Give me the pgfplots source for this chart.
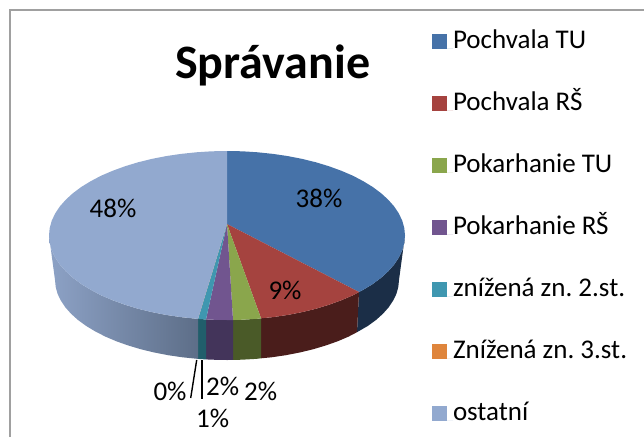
\documentclass[border=0pt]{standalone}
\usepackage{fontspec}
\setmainfont{Carlito}
\frenchspacing
\usepackage{pgfplots}
\pgfplotsset{compat=1.18}
\definecolor{cBlue}{HTML}{4672A8}
\definecolor{cRed}{HTML}{A5433F}
\definecolor{cGreen}{HTML}{8AA64C}
\definecolor{cPurple}{HTML}{71558F}
\definecolor{cTeal}{HTML}{3F97B0}
\definecolor{cOrange}{HTML}{DF853C}
\definecolor{cLight}{HTML}{92A9CF}
\definecolor{sBlue}{HTML}{1B2E47}
\definecolor{sRed}{HTML}{4A1D1B}
\definecolor{sGreen}{HTML}{4A5A28}
\definecolor{sPurple}{HTML}{43345A}
\definecolor{sTeal}{HTML}{215E6B}
\definecolor{sLightA}{HTML}{8DA2C6}
\definecolor{sLightB}{HTML}{5D6E88}
\definecolor{frameC}{HTML}{A0A0A0}
\begin{document}
\frenchspacing
\begin{tikzpicture}
\useasboundingbox (0,0) rectangle (644pt,437pt);
\begin{axis}[
  scale only axis, width=644pt, height=437pt,
  xmin=0, xmax=644, ymin=0, ymax=437, y dir=reverse,
  hide axis, clip=false, no markers,
  legend style={at={(axis cs:432,33)}, anchor=north west, draw=none, fill=none,
    inner sep=0pt, outer sep=0pt, row sep=42pt, column sep=0pt,
    font=\frenchspacing\fontsize{27}{27}\selectfont,
    nodes={inner sep=0pt, outer sep=0pt, text height=15pt, text depth=5pt, anchor=base west}},
  legend cell align=left,
  legend image code/.code={\path (0pt,0pt) -- (21pt,0pt);\fill[#1,draw=none] (0pt,-1pt) rectangle (15pt,14pt);},
]
% frame
\addplot[forget plot, frameC, line width=2pt] coordinates {(10,437) (10,10) (644,10)};
% sides
\addplot[forget plot, draw=none, fill=sBlue] coordinates {(405,235.5) (404.3,242.9) (402.3,250.2) (398.9,257.4) (394.3,264.4) (388.3,271.2) (381.1,277.8) (372.8,284) (363.3,289.8) (359,292) (357,332.2) (367.9,325.9) (376,320) (382.9,313.8) (388.6,307.4) (393.1,300.7) (396.4,293.9) (398.3,287) (399,280)} --cycle;
\addplot[forget plot, draw=none, fill=sRed] coordinates {(359,292) (352.9,295.3) (341.4,300.2) (329.1,304.7) (316,308.7) (302.2,312.1) (287.9,314.9) (273.1,317.1) (261,318.3) (261,358.3) (271.5,357.3) (285.8,355.2) (299.7,352.5) (313,349.3) (325.7,345.5) (337.6,341.3) (348.6,336.6) (357,332.2)} --cycle;
\addplot[forget plot, draw=none, fill=sGreen] coordinates {(261,318.3) (257.9,318.7) (242.5,319.7) (233,320) (233,359.9) (242,359.7) (256.9,358.8) (261,358.3)} --cycle;
\addplot[forget plot, draw=none, fill=sPurple] coordinates {(233,320) (227,320) (211.5,319.7) (206,319.4) (206,359.4) (212,359.7) (227,360) (233,359.9)} --cycle;
\addplot[forget plot, draw=none, fill=sTeal] coordinates {(206,319.4) (198,318.9) (198,358.9) (206,359.4)} --cycle;
\addplot[forget plot, draw=none, left color=sLightA, right color=sLightB] coordinates {(198,318.9) (196.1,318.7) (180.9,317.1) (166.1,314.9) (151.8,312.1) (138,308.7) (124.9,304.7) (112.6,300.2) (101.1,295.3) (90.7,289.8) (81.2,284) (72.9,277.8) (65.7,271.2) (59.7,264.4) (55.1,257.4) (51.7,250.2) (49.7,242.9) (49,235.5) (55,280) (55.7,287) (57.6,293.9) (60.9,300.7) (65.4,307.4) (71.1,313.8) (78,320) (86.1,325.9) (95.2,331.4) (105.4,336.6) (116.4,341.3) (128.3,345.5) (141,349.3) (154.3,352.5) (168.2,355.2) (182.5,357.3) (197.1,358.8) (198,358.9)} --cycle;
% top slices (values 38, 9, 2, 2, 1, 0, 48 %)
\addplot[draw=none, fill=cBlue] coordinates {(227,224) (227,151) (242.5,151.3) (257.9,152.3) (273.1,153.9) (287.9,156.1) (302.2,158.9) (316,162.3) (329.1,166.3) (341.4,170.8) (352.9,175.7) (363.3,181.2) (372.8,187) (381.1,193.2) (388.3,199.8) (394.3,206.6) (398.9,213.6) (402.3,220.8) (404.3,228.1) (405,235.5) (404.3,242.9) (402.3,250.2) (398.9,257.4) (394.3,264.4) (388.3,271.2) (381.1,277.8) (372.8,284) (363.3,289.8) (359,292)} --cycle;
\addplot[draw=none, fill=cRed] coordinates {(227,224) (359,292) (352.9,295.3) (341.4,300.2) (329.1,304.7) (316,308.7) (302.2,312.1) (287.9,314.9) (273.1,317.1) (261,318.3)} --cycle;
\addplot[draw=none, fill=cGreen] coordinates {(227,224) (261,318.3) (257.9,318.7) (242.5,319.7) (233,320)} --cycle;
\addplot[draw=none, fill=cPurple] coordinates {(227,224) (233,320) (227,320) (211.5,319.7) (206,319.4)} --cycle;
\addplot[draw=none, fill=cTeal] coordinates {(227,224) (206,319.4) (198,318.9)} --cycle;
\addplot[draw=none, fill=cOrange] coordinates {(227,224) (198,318.9)} --cycle;
\addplot[draw=none, fill=cLight] coordinates {(227,224) (198,318.9) (196.1,318.7) (180.9,317.1) (166.1,314.9) (151.8,312.1) (138,308.7) (124.9,304.7) (112.6,300.2) (101.1,295.3) (90.7,289.8) (81.2,284) (72.9,277.8) (65.7,271.2) (59.7,264.4) (55.1,257.4) (51.7,250.2) (49.7,242.9) (49,235.5) (49.7,228.1) (51.7,220.8) (55.1,213.6) (59.7,206.6) (65.7,199.8) (72.9,193.2) (81.2,187) (90.7,181.2) (101.1,175.7) (112.6,170.8) (124.9,166.3) (138,162.3) (151.8,158.9) (166.1,156.1) (180.9,153.9) (196.1,152.3) (211.5,151.3) (227,151)} --cycle;
% leader lines
\addplot[forget plot, black, line width=1.4pt] coordinates {(196.7,360) (190.7,398)};
\addplot[forget plot, black, line width=1.4pt] coordinates {(202,360) (202,399)};
\legend{Pochvala TU, Pochvala RŠ, Pokarhanie TU, Pokarhanie RŠ, znížená zn. 2.st., Znížená zn. 3.st., ostatní}
\node[anchor=base west, inner sep=0pt, font=\fontsize{48}{48}\selectfont\bfseries] at (axis cs:175,78) {Správanie};
\begin{scope}[every node/.style={font=\fontsize{27}{27}\selectfont, inner sep=0pt}]
\node at (axis cs:319,198) {38\%};
\node at (axis cs:285,290) {9\%};
\node at (axis cs:113,208) {48\%};
\node at (axis cs:222.7,386) {2\%};
\node at (axis cs:260.7,391.7) {2\%};
\node at (axis cs:212.7,418) {1\%};
\node at (axis cs:170,391.7) {0\%};
\end{scope}
\end{axis}
\end{tikzpicture}
\end{document}
